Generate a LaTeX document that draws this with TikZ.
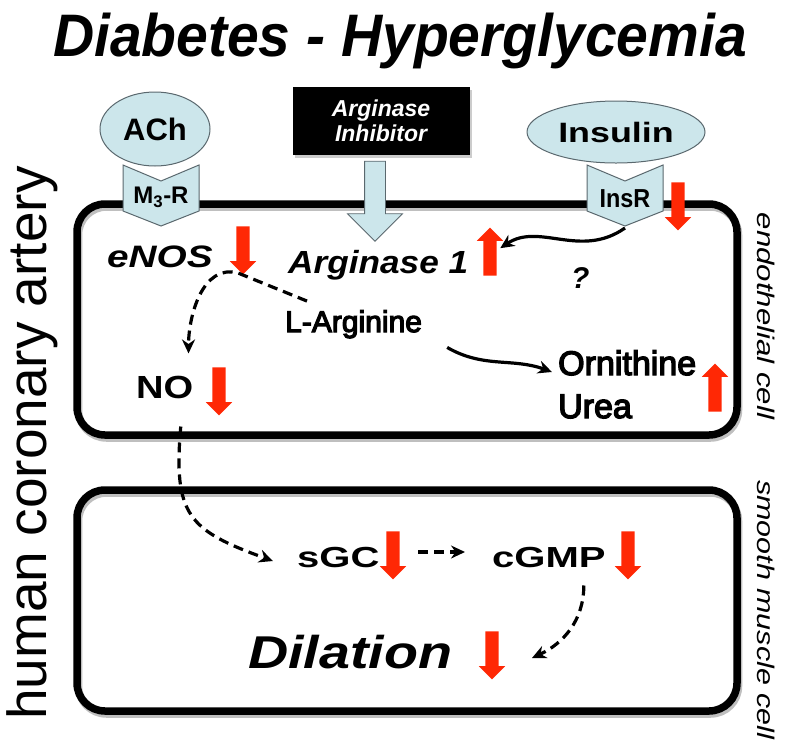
\documentclass[tikz,border=0pt]{standalone}
\usepackage{fontspec}
\setmainfont{Liberation Sans}
\newfontfamily\medsans{Liberation Sans}[FakeBold=4]
\usepackage{tikz}
\usetikzlibrary{arrows.meta, positioning, shapes.geometric, shapes.arrows, shadows, calc}
\pgfdeclarelayer{background}
\pgfsetlayers{background,main}
\definecolor{cellblue}{RGB}{204,230,235}
\definecolor{rim}{RGB}{90,104,110}
\definecolor{redmark}{RGB}{255,40,5}
\newcommand{\fsz}[1]{\fontsize{#1}{#1}\selectfont}
\newcommand{\hwide}[2]{\scalebox{#1}[1]{#2}}
\tikzset{
    receptor/.pic = {
    \draw[rim, fill=cellblue, line width=1pt] (-38,0) -- (0,16) -- (38,0) -- (38,46) -- (0,61) -- (-38,46) -- cycle;
    \coordinate (-tip) at (0,63);
    },
    txt/.style={inner sep=0pt},
    ligand/.style={ellipse, draw=rim, fill=cellblue, line width=1pt, inner sep=0pt, font=\bfseries\fsz{28}},
    cellwall/.style={draw, line width=7.5pt, rounded corners=28pt, inner sep=0pt,
      preaction={draw=black!25, transform canvas={xshift=1.5pt, yshift=-3pt}}},
    fall/.style={single arrow, fill=redmark, rotate=-90, minimum height=48pt, minimum width=26pt,
      single arrow head extend=6.5pt, inner xsep=0pt, inner ysep=6.5pt},
    rise/.style={fall, rotate=180},
    solidarr/.style={line width=3.2pt, -{Stealth[length=14pt, width=13pt]}},
    dasharr/.style={solidarr, dash pattern=on 10pt off 6pt},
}
\begin{document}
\begin{tikzpicture}[x=1pt, y=-1pt]
    \tikzset{
      blockarrow/.style={single arrow, draw=rim, fill=cellblue, line width=0.8pt, rotate=-90,
        minimum height=80pt, minimum width=54pt, single arrow head extend=17pt, inner xsep=0pt, inner ysep=10pt},
      inhib/.style={fill=black, text=white, minimum width=177pt, minimum height=68pt, align=center,
        font=\bfseries\itshape\fontsize{23}{25}\selectfont,
        drop shadow={shadow xshift=2pt, shadow yshift=-3pt, opacity=.4}}
    }
    \useasboundingbox (0,0) rectangle (787,740);

    \node[txt, anchor=base, font=\bfseries\itshape\fsz{60}] (title) at (400,56) {\hwide{0.95}{Diabetes - Hyperglycemia}};

    \begin{pgfonlayer}{background}
      \node[cellwall, minimum width=660pt, minimum height=231pt] (endo) at (407,319.5) {};
      \node[cellwall, minimum width=660pt, minimum height=221pt] (smooth) at (407,600.5) {};
    \end{pgfonlayer}

    \node[txt, rotate=90, font=\fsz{55}] (artery) at (32,443) {human coronary artery};
    \node[txt, rotate=-90, font=\itshape\fsz{24}] (endolbl) at (766,316) {\hwide{1.3}{endothelial cell}};
    \node[txt, rotate=-90, anchor=west, font=\itshape\fsz{24}] (smlbl) at (766,480) {\hwide{1.27}{smooth muscle cell}};

    % receptors on the membrane
    \node[ligand, minimum width=110pt, minimum height=74pt, font=\bfseries\fsz{31}] (ach) at (155,129) {ACh};
    \pic (m3) at (161,165) {receptor};
    \node[txt, font=\bfseries\fsz{24}] (m3r) at (161,197) {M\textsubscript{3}-R};

    \node[ligand, minimum width=178pt, minimum height=62pt] (ins) at (616,132) {\hwide{1.28}{Insulin}};
    \pic (insr) at (625,165) {receptor};
    \node[txt, font=\bfseries\fsz{26}] (insrtxt) at (625,199) {\hwide{0.9}{InsR}};

    \node[inhib] (inhibitor) at (381,121) {Arginase\\Inhibitor};
    \node[blockarrow] (inharr) at (375,196) {};

    % endothelial cell
    \node[txt, anchor=base west, font=\bfseries\itshape\fsz{31}] (enos) at (107,267) {\hwide{1.25}{eNOS}};
    \node[txt, anchor=base west, font=\bfseries\itshape\fsz{32}] (arg1) at (288,273) {\hwide{1.1}{Arginase 1}};
    \node[txt, anchor=base west, font=\medsans\fsz{30}] (larg) at (285,332) {L-Arginine};
    \node[txt, anchor=base west, font=\bfseries\fsz{32}] (no) at (136,398) {\hwide{1.19}{NO}};
    \node[txt, anchor=base west, font=\medsans\fsz{34}] (orn) at (558,375) {Ornithine};
    \node[txt, below=43pt of orn.base west, anchor=base west, font=\medsans\fsz{34}] (urea) {Urea};
    \node[txt, anchor=base west, font=\bfseries\itshape\fsz{30}] (qm) at (571,288) {?};

    % smooth muscle cell
    \node[txt, anchor=base west, font=\bfseries\fsz{29}] (sgc) at (297,567) {\hwide{1.38}{sGC}};
    \node[txt, anchor=base west, font=\bfseries\fsz{29}] (cgmp) at (492,567) {\hwide{1.38}{cGMP}};
    \node[txt, anchor=base west, font=\bfseries\itshape\fsz{46}] (dil) at (248,668) {\hwide{1.21}{Dilation}};

    \node[fall] (enosdn) at (243,247) {};
    \node[rise] (argup) at (490,255) {};
    \node[fall] (insdn) at (678,203) {};
    \node[fall] (nodn) at (219,388) {};
    \node[rise] (ornup) at (715,391) {};
    \node[fall] (sgcdn) at (393,552) {};
    \node[fall] (cgmpdn) at (628,552) {};
    \node[fall] (dildn) at (492,652) {};

    \coordinate (split) at (238,273);
    \draw[solidarr, shorten >=4pt] (insr-tip) to[out=-145, in=10] (argup);
    \draw[dasharr] ($(larg.north west)+(22,-9)$) -- (split) to[out=165, in=90] ($(no.north east)+(-5,-22)$);
    \draw[solidarr] ($(larg.south east)+(25,9)$) to[out=-30, in=160] ($(orn.base west)+(-6,-3)$);
    \draw[dasharr] ($(no.south)+(16,28)$) to[out=-95, in=160, looseness=1.4] ($(sgc.west)+(-24,4)$);
    \draw[dasharr, shorten <=25pt, shorten >=27pt] (sgcdn.center) -- (sgcdn.center -| cgmp.west);
    \draw[dasharr] ($(cgmp.south east)+(-22,18)$) to[out=-90, in=25] ($(dildn.center)+(40,6)$);
\end{tikzpicture}
\end{document}
